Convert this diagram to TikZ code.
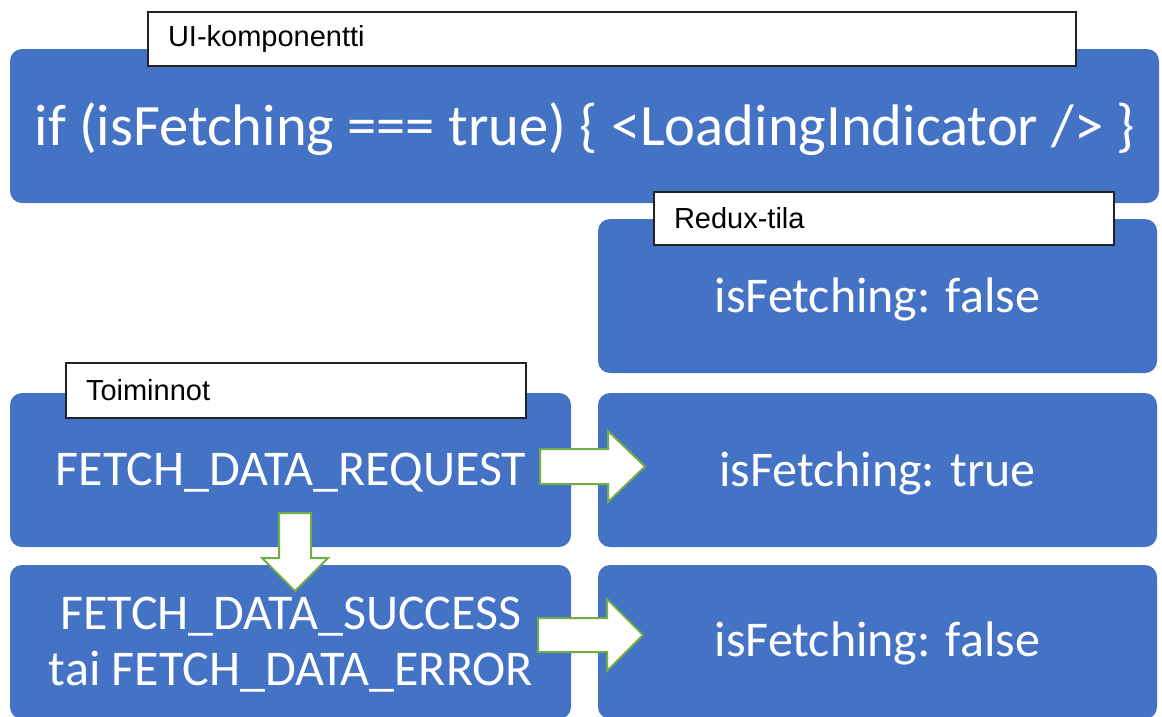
\documentclass[tikz,border=0pt]{standalone}
\usepackage{fontspec}
\newfontfamily\calfont{Carlito}
\newfontfamily\arialfont{Liberation Sans}
\definecolor{boxblue}{HTML}{4472C4}
\definecolor{arrowgreen}{HTML}{70AD47}
\definecolor{labelborder}{HTML}{222222}
\begin{document}
\begin{tikzpicture}[x=1pt,y=-1pt,
  bluebox/.style={rectangle, rounded corners=12pt, fill=boxblue,
    inner sep=0pt, minimum height=154pt},
  boxtext/.style={text=white, align=center, inner sep=0pt,
    font=\calfont\fontsize{50}{56}\selectfont},
  labelbox/.style={rectangle, draw=labelborder, line width=1.2pt, fill=white,
    inner xsep=20pt, inner ysep=0pt, align=left, text=black,
    font=\arialfont\fontsize{29}{32}\selectfont},
  blockarrow/.style={draw=arrowgreen, line width=2pt, fill=white, line join=miter}
]
\useasboundingbox (0,0) rectangle (1162,716);
\begin{scope}
\clip (0,0) rectangle (1162,716);
% main boxes
\node[bluebox, minimum width=1149pt] (ui) at (584.5,126) {};
\node[bluebox, minimum width=559pt] (s1) at (877.5,296) {};
\node[bluebox, minimum width=559pt] (s2) at (877.5,470) {};
\node[bluebox, minimum width=559pt] (s3) at (877.5,642) {};
\node[bluebox, minimum width=561pt] (a1) at (290.5,470) {};
\node[bluebox, minimum width=561pt] (a2) at (290.5,642) {};
\end{scope}
% box texts
\node[boxtext, font=\calfont\fontsize{58.6}{60}\selectfont] (uitext) at (585,129.5) {if (isFetching === true) \{ <LoadingIndicator /> \}};
\node[boxtext] (s1text) at (877.5,299) {isFetching: false};
\node[boxtext] (s2text) at (877.5,473) {isFetching: true};
\node[boxtext] (s3text) at (877.5,643) {isFetching: false};
\node[boxtext] (a1text) at (291,473) {FETCH\_DATA\_REQUEST};
\node[boxtext] (a2text) at (291,644.5) {FETCH\_DATA\_SUCCESS\\tai FETCH\_DATA\_ERROR};
% labels
\node[labelbox, text width=888pt, minimum height=54pt] (uilabel) at (612,39) {\raisebox{-1.5pt}{UI-komponentti}};
\node[labelbox, text width=420pt, minimum height=53pt] (reduxlabel) at (884,218.5) {\raisebox{-1.5pt}{Redux-tila}};
\node[labelbox, text width=420pt, minimum height=55pt] (actlabel) at (296,390.5) {\raisebox{-1.5pt}{Toiminnot}};
% block arrows
\coordinate (arr1) at (540,466.5);
\coordinate (arr2) at (538,635);
\coordinate (arr3) at (295,513);
\draw[blockarrow, shift={(arr1)}] (0,-17.5) -- (68,-17.5) -- (68,-35.5) -- (105,0)
  -- (68,35.5) -- (68,17.5) -- (0,17.5) -- cycle;
\draw[blockarrow, shift={(arr2)}] (0,-17) -- (69,-17) -- (69,-36) -- (105,0)
  -- (69,36) -- (69,17) -- (0,17) -- cycle;
\draw[blockarrow, shift={(arr3)}] (-16,0) -- (16,0) -- (16,45) -- (33,45) -- (0,78)
  -- (-33,45) -- (-16,45) -- cycle;
\end{tikzpicture}
\end{document}
